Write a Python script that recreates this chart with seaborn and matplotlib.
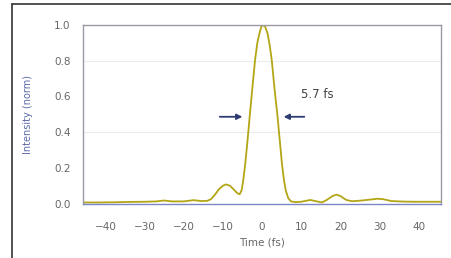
import matplotlib
matplotlib.use("Agg")
import pandas as pd
import seaborn as sns
import matplotlib.pyplot as plt
from matplotlib.lines import Line2D

##################################### Data #####################################
# Time axis (fs) and normalised intensity
time_fs = [-45.7, -42, -38, -34, -30, -27, -25, -23, -20, -17.5, -15.5, -14, -13, -12,
           -11, -10, -9.2, -8.2, -7.2, -6.3, -5.7, -5.2, -4.8, -4.3, -3.8, -3.1, -2.5,
           -1.8, -1.2, -0.7, -0.2, 0.3, 0.8, 1.45, 2.0, 2.5, 3.2, 3.9, 4.5, 5.1, 5.6,
           6.1, 6.7, 7.4, 8.5, 10, 12.3, 14, 15.3, 16.5, 18, 19, 20, 21.5, 23, 25,
           27.5, 29.5, 31, 33, 36, 39, 42, 45.7]
intensity = [0.006, 0.006, 0.007, 0.009, 0.010, 0.012, 0.017, 0.012, 0.012, 0.019, 0.014,
             0.015, 0.025, 0.050, 0.080, 0.100, 0.107, 0.100, 0.078, 0.058, 0.052, 0.075,
             0.130, 0.220, 0.330, 0.500, 0.640, 0.800, 0.900, 0.950, 0.990, 1.000, 0.990,
             0.950, 0.880, 0.800, 0.640, 0.500, 0.360, 0.220, 0.130, 0.070, 0.030, 0.012,
             0.008, 0.010, 0.020, 0.012, 0.006, 0.020, 0.042, 0.050, 0.042, 0.020, 0.013,
             0.016, 0.022, 0.027, 0.024, 0.014, 0.011, 0.010, 0.010, 0.010]

x_ticks = [-40, -30, -20, -10, 0, 10, 20, 30, 40]
y_ticks = [0.0, 0.2, 0.4, 0.6, 0.8, 1.0]

fwhm_label = "5.7 fs"
fwhm_level = 0.486
left_arrow = (-11.5, -4.3)   # tail, head (fs)
right_arrow = (11.5, 4.8)

df = pd.DataFrame({"Time": time_fs, "Intensity": intensity})

##################################### Plot #####################################
sns.set_theme(style="white")
plt.rcParams["font.family"] = ["DejaVu Sans"]

fig = plt.figure(figsize=(4.51, 2.58), dpi=100)
ax = fig.add_axes([0.184, 0.209, 0.794, 0.694])

sns.lineplot(data=df, x="Time", y="Intensity", ax=ax, color="#b3a616", linewidth=1.3)

ax.set_xlim(-45.7, 45.7)
ax.set_ylim(-0.003, 1.0)
ax.set_xticks(x_ticks)
ax.set_yticks(y_ticks)
ax.set_yticklabels([f"{v:.1f}" for v in y_ticks])

# faint horizontal grid lines as in the scan
for v in [0.4, 0.8]:
    ax.axhline(v, color="#ececec", lw=0.8, zorder=0)

ax.tick_params(axis="both", direction="out", width=0.8, colors="#777777",
               labelsize=7.5, labelcolor="#666666")
ax.tick_params(axis="y", length=6, pad=3)
ax.tick_params(axis="x", length=8, pad=5)

for side in ["top", "right", "left"]:
    ax.spines[side].set_color("#9a9aa6")
    ax.spines[side].set_linewidth(1.0)
ax.spines["bottom"].set_color("#7b86c8")
ax.spines["bottom"].set_linewidth(1.0)

ax.set_xlabel("Time (fs)", fontsize=7.5, color="#666666", labelpad=4)
ax.set_ylabel("Intensity (norm)", fontsize=7, color="#5a6aa8", labelpad=15)

# FWHM annotation
ax.annotate("", xy=(left_arrow[1], fwhm_level), xytext=(left_arrow[0], fwhm_level),
            arrowprops=dict(arrowstyle="-|>", color="#2f3c72", lw=1.3, mutation_scale=8))
ax.annotate("", xy=(right_arrow[1], fwhm_level), xytext=(right_arrow[0], fwhm_level),
            arrowprops=dict(arrowstyle="-|>", color="#2f3c72", lw=1.3, mutation_scale=8))
ax.text(14.0, 0.61, fwhm_label, fontsize=8.5, color="#444444", ha="center", va="center")

# outer frame (left and top edges of the scanned box)
fig.add_artist(Line2D([0.027, 0.027], [0.0, 0.985], transform=fig.transFigure,
                      color="#333333", lw=1.2))
fig.add_artist(Line2D([0.027, 1.0], [0.985, 0.985], transform=fig.transFigure,
                      color="#333333", lw=1.2))

fig.savefig("out.png", dpi=100)
